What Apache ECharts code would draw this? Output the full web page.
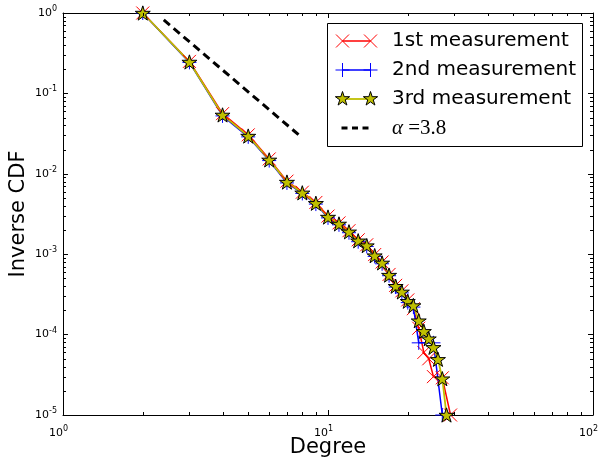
<!DOCTYPE html>
<html><head><meta charset="utf-8">
<script src="https://cdn.jsdelivr.net/npm/echarts@6/dist/echarts.min.js"></script>
<style>html,body{margin:0;padding:0;background:#fff}#c{width:604px;height:458px}</style>
</head><body><div id="c"></div>
<script>
// ---------- data ----------
const seriesNames = ['1st measurement', '2nd measurement', '3rd measurement'];
const fitLabelAlpha = 'α';
const fitLabelValue = ' =3.8';

const degree1 = [2,3,4,5,6,7,8,9,10,11,12,13,14,15,16,17,18,19,20,21,22,23,24,25,27,29];
const cdf1 = [1,0.25,0.056,0.0305,0.0153,0.0081,0.0059,0.0044,0.00298,0.00245,0.00196,0.00151,0.00131,0.00099,0.00080,0.00056,0.00041,0.00035,0.00027,0.00021,0.00012,0.00006,0.00005,0.00003,0.000029,0.00001];

const degree2 = [2,3,4,5,6,7,8,9,10,11,12,13,14,15,16,17,18,19,20,21,22,25,27];
const cdf2 = [1,0.243,0.0525,0.0288,0.0146,0.0077,0.0057,0.0042,0.00283,0.00232,0.00185,0.00143,0.00125,0.00094,0.00076,0.00054,0.00039,0.00033,0.00025,0.00022,0.000079,0.000079,0.00001];

const degree3 = [2,3,4,5,6,7,8,9,10,11,12,13,14,15,16,17,18,19,20,21,22,23,24,25,26,27,28];
const cdf3 = [1,0.246,0.054,0.0295,0.0149,0.0079,0.0058,0.0043,0.0029,0.00238,0.0019,0.00147,0.00128,0.00096,0.00078,0.00055,0.0004,0.00034,0.00026,0.00023,0.000149,0.00011,0.000089,0.0000695,0.0000493,0.0000283,0.00001];

const fitDegree = [2.4, 7.8];
const fitCdf = [0.82, 0.030];

const xRange = [1, 100];
const yRange = [0.00001, 1];
const xMinorTicks = [2,3,4,5,6,7,8,9,20,30,40,50,60,70,80,90];
const yMinorTicks = [0.00002,0.00003,0.00004,0.00005,0.00006,0.00007,0.00008,0.00009,
  0.0002,0.0003,0.0004,0.0005,0.0006,0.0007,0.0008,0.0009,
  0.002,0.003,0.004,0.005,0.006,0.007,0.008,0.009,
  0.02,0.03,0.04,0.05,0.06,0.07,0.08,0.09,
  0.2,0.3,0.4,0.5,0.6,0.7,0.8,0.9];

// ---------- styles ----------
const RED = '#ff0000', BLUE = '#0000ff', YEL = '#bfbf00';
const FONT = '"DejaVu Sans", sans-serif';
const X_PATH = 'path://M0,0L10,10M10,0L0,10';
const PLUS_PATH = 'path://M5,0L5,10M0,5L10,5';
const STAR_PATH = 'path://M50,0L61.23,34.55L97.55,34.55L68.16,55.9L79.39,90.45L50,69.1L20.61,90.45L31.84,55.9L2.45,34.55L38.77,34.55Z';

const zip = (a, b) => a.map((v, i) => [v, b[i]]);
const expLabel = v => '{b|10}{s|' + Math.round(Math.log10(v)) + '}';
const labelRich = {
  b: { fontSize: 11, fontFamily: FONT, color: '#000' },
  s: { fontSize: 8, fontFamily: FONT, color: '#000', padding: [0, 0, 8, 0] }
};

function axisBase(extra) {
  return Object.assign({
    type: 'log', logBase: 10,
    nameMoveOverlap: false,
    axisLine: { show: true, onZero: false, lineStyle: { color: '#000', width: 1 } },
    axisTick: { show: true, inside: true, length: 5, lineStyle: { color: '#000', width: 1 } },
    splitLine: { show: false },
    minorTick: { show: false }
  }, extra);
}

// legend drawing helpers (layout only)
function xMark(cx, cy, s, color) {
  const h = s / 2;
  return [
    { type: 'line', z: 101, shape: { x1: cx - h, y1: cy - h, x2: cx + h, y2: cy + h }, style: { stroke: color, lineWidth: 1 } },
    { type: 'line', z: 101, shape: { x1: cx - h, y1: cy + h, x2: cx + h, y2: cy - h }, style: { stroke: color, lineWidth: 1 } }
  ];
}
function plusMark(cx, cy, s, color) {
  const h = s / 2;
  return [
    { type: 'line', z: 101, shape: { x1: cx - h, y1: cy, x2: cx + h, y2: cy }, style: { stroke: color, lineWidth: 1 } },
    { type: 'line', z: 101, shape: { x1: cx, y1: cy - h, x2: cx, y2: cy + h }, style: { stroke: color, lineWidth: 1 } }
  ];
}
function starMark(cx, cy, r) {
  const pts = [];
  for (let k = 0; k < 10; k++) {
    const ang = (90 + 36 * k) * Math.PI / 180;
    const rr = k % 2 === 0 ? r : r * 0.382;
    pts.push([cx + rr * Math.cos(ang), cy - rr * Math.sin(ang)]);
  }
  return [{ type: 'polygon', z: 102, shape: { points: pts }, style: { fill: YEL, stroke: '#000', lineWidth: 1 } }];
}

const LX0 = 342.5, LX1 = 370.5, TX = 392;
const rows = [41, 70, 99, 128];
const legendEls = [
  { type: 'rect', z: 100, shape: { x: 327.5, y: 23.5, width: 255, height: 123 }, style: { fill: '#fff', stroke: '#000', lineWidth: 1 } },
  { type: 'line', z: 101, shape: { x1: LX0, y1: rows[0], x2: LX1, y2: rows[0] }, style: { stroke: RED, lineWidth: 1.5 } },
  ...xMark(LX0, rows[0], 13, RED), ...xMark(LX1, rows[0], 13, RED),
  { type: 'line', z: 101, shape: { x1: LX0, y1: rows[1], x2: LX1, y2: rows[1] }, style: { stroke: BLUE, lineWidth: 1.5 } },
  ...plusMark(LX0, rows[1], 14, BLUE), ...plusMark(LX1, rows[1], 14, BLUE),
  { type: 'line', z: 101, shape: { x1: LX0, y1: rows[2], x2: LX1, y2: rows[2] }, style: { stroke: YEL, lineWidth: 1.8 } },
  ...starMark(LX0, rows[2], 7.5), ...starMark(LX1, rows[2], 7.5),
  { type: 'line', z: 101, shape: { x1: LX0 - 1, y1: rows[3], x2: LX1 + 1, y2: rows[3] }, style: { stroke: '#000', lineWidth: 3, lineDash: [6, 4.5] } },
  { type: 'text', z: 101, x: TX, y: rows[0], style: { text: seriesNames[0], fontSize: 20, fontFamily: FONT, fill: '#000', verticalAlign: 'middle' } },
  { type: 'text', z: 101, x: TX, y: rows[1], style: { text: seriesNames[1], fontSize: 20, fontFamily: FONT, fill: '#000', verticalAlign: 'middle' } },
  { type: 'text', z: 101, x: TX, y: rows[2], style: { text: seriesNames[2], fontSize: 20, fontFamily: FONT, fill: '#000', verticalAlign: 'middle' } },
  { type: 'text', z: 101, x: TX, y: rows[3], style: {
      text: '{a|' + fitLabelAlpha + '}{e|' + fitLabelValue + '}', verticalAlign: 'middle', fill: '#000',
      rich: {
        a: { fontFamily: '"Liberation Serif", serif', fontStyle: 'italic', fontSize: 21, fill: '#000' },
        e: { fontFamily: '"Liberation Serif", serif', fontSize: 21, fill: '#000' }
      } } }
];

const chart = echarts.init(document.getElementById('c'), null, { renderer: 'canvas' });
chart.setOption({
  animation: false,
  backgroundColor: '#fff',
  grid: { left: 63, right: 11, top: 13, bottom: 43, containLabel: false, outerBoundsMode: 'none' },
  xAxis: [
    axisBase({
      min: xRange[0], max: xRange[1], position: 'bottom',
      axisLabel: { show: true, margin: 10, padding: [0, 9, 0, 0], formatter: expLabel, rich: labelRich, showMinLabel: true, showMaxLabel: true },
      name: 'Degree', nameLocation: 'middle', nameGap: 22,
      nameTextStyle: { fontSize: 21, fontFamily: FONT, color: '#000' }
    }),
    axisBase({ min: xRange[0], max: xRange[1], position: 'top', axisLabel: { show: false } })
  ],
  yAxis: [
    axisBase({
      min: yRange[0], max: yRange[1], position: 'left',
      axisLabel: { show: true, margin: 6, formatter: expLabel, rich: labelRich, showMinLabel: true, showMaxLabel: true },
      name: 'Inverse CDF', nameLocation: 'middle', nameGap: 34,
      nameTextStyle: { fontSize: 21, fontFamily: FONT, color: '#000' }
    }),
    axisBase({ min: yRange[0], max: yRange[1], position: 'right', axisLabel: { show: false } })
  ],
  graphic: legendEls,
  series: [
    {
      type: 'custom', silent: true, clip: false, z: 5,
      data: xMinorTicks.map(v => [v, yRange[0]]),
      renderItem: (params, api) => {
        const b = api.coord([api.value(0), yRange[0]]);
        const t = api.coord([api.value(0), yRange[1]]);
        const x = Math.round(b[0]) + 0.5;
        return { type: 'group', children: [
          { type: 'line', shape: { x1: x, y1: b[1], x2: x, y2: b[1] - 3 }, style: { stroke: '#000', lineWidth: 1 } },
          { type: 'line', shape: { x1: x, y1: t[1], x2: x, y2: t[1] + 3 }, style: { stroke: '#000', lineWidth: 1 } }
        ] };
      }
    },
    {
      type: 'custom', silent: true, clip: false, z: 5,
      data: yMinorTicks.map(v => [xRange[0], v]),
      renderItem: (params, api) => {
        const l = api.coord([xRange[0], api.value(1)]);
        const r = api.coord([xRange[1], api.value(1)]);
        const y = Math.round(l[1]) + 0.5;
        return { type: 'group', children: [
          { type: 'line', shape: { x1: l[0], y1: y, x2: l[0] + 3, y2: y }, style: { stroke: '#000', lineWidth: 1 } },
          { type: 'line', shape: { x1: r[0], y1: y, x2: r[0] - 3, y2: y }, style: { stroke: '#000', lineWidth: 1 } }
        ] };
      }
    },
    {
      name: seriesNames[0], type: 'line', data: zip(degree1, cdf1),
      symbol: X_PATH, symbolSize: 13,
      lineStyle: { color: RED, width: 1.5 },
      itemStyle: { color: RED, borderColor: RED, borderWidth: 1 }
    },
    {
      name: seriesNames[1], type: 'line', data: zip(degree2, cdf2),
      symbol: PLUS_PATH, symbolSize: 14,
      lineStyle: { color: BLUE, width: 1.5 },
      itemStyle: { color: BLUE, borderColor: BLUE, borderWidth: 1 }
    },
    {
      name: seriesNames[2], type: 'line', data: zip(degree3, cdf3),
      symbol: STAR_PATH, symbolSize: 15, symbolKeepAspect: true,
      lineStyle: { color: YEL, width: 1.8 },
      itemStyle: { color: YEL, borderColor: '#000', borderWidth: 1 }
    },
    {
      name: 'alpha=3.8', type: 'line', data: zip(fitDegree, fitCdf),
      symbol: 'none',
      lineStyle: { color: '#000', width: 3, type: [8, 5] }
    }
  ]
});
</script>
</body></html>
